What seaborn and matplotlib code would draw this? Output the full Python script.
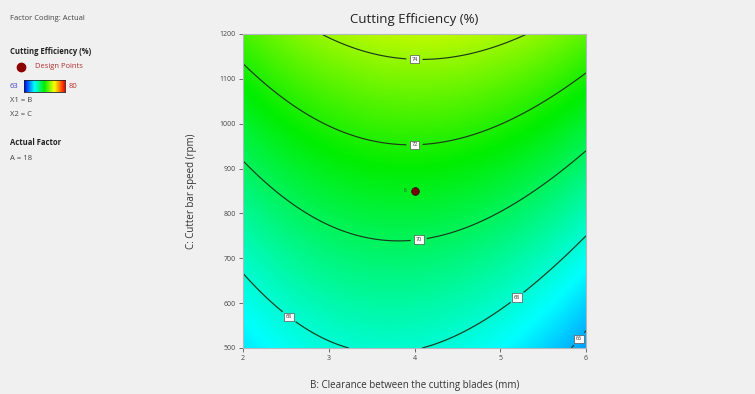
import numpy as np
import pandas as pd
import matplotlib
matplotlib.use("Agg")
import matplotlib.pyplot as plt
from matplotlib.colors import LinearSegmentedColormap
import seaborn as sns

# Factor ranges (actual units)
b_range = [2, 6]          # B: clearance between the cutting blades (mm)
c_range = [500, 1200]     # C: cutter bar speed (rpm)
x_ticks = [2, 3, 4, 5, 6]
y_ticks = [500, 600, 700, 800, 900, 1000, 1100, 1200]

# Quadratic response-surface coefficients (coded factors), A held at 18
coef_names = ["intercept", "B", "C", "BC", "B2", "C2"]
coef_values = [71.00, -0.20, 3.30, 0.40, -1.77, 0.33]

# Response range shown by the colour scale
resp_min, resp_max = 63, 80
contour_levels = [66, 68, 70, 72, 74]

# Design point (centre point) and its replicate count
design_b = [4]
design_c = [850]
design_reps = ["6"]

sns.set_theme(style="white")
plt.rcParams["font.family"] = ["Open Sans", "DejaVu Sans"]

bg = "#f0f0f0"
fig = plt.figure(figsize=(7.55, 3.94), dpi=100, facecolor=bg)
ax = fig.add_axes([243 / 755, 46 / 394, 343 / 755, 314 / 394])

coef = dict(zip(coef_names, coef_values))
bb = np.linspace(b_range[0], b_range[1], 400)
cc = np.linspace(c_range[0], c_range[1], 400)
B, C = np.meshgrid(bb, cc)
u = (B - np.mean(b_range)) / ((b_range[1] - b_range[0]) / 2)
v = (C - np.mean(c_range)) / ((c_range[1] - c_range[0]) / 2)
Z = (coef["intercept"] + coef["B"] * u + coef["C"] * v + coef["BC"] * u * v
     + coef["B2"] * u ** 2 + coef["C2"] * v ** 2)

cmap = LinearSegmentedColormap.from_list(
    "de", [(0.0, "#0000ff"), (0.25, "#00ffff"), (0.5, "#00ee00"),
           (0.75, "#ffff00"), (1.0, "#ff0000")])

ax.imshow(Z, extent=[b_range[0], b_range[1], c_range[0], c_range[1]],
          origin="lower", aspect="auto", cmap=cmap, vmin=resp_min, vmax=resp_max,
          interpolation="bilinear")
cs = ax.contour(B, C, Z, levels=contour_levels, colors="#1c3a1c", linewidths=0.85)
label_spots = [(5.92, 520), (2.6, 585), (5.2, 612), (4.05, 741), (4.0, 952), (4.0, 1149)]
texts = ax.clabel(cs, fmt="%d", fontsize=4, inline=True, inline_spacing=5,
                  manual=label_spots, colors="#333333")
for t in texts:
    t.set_rotation(0)
    t.set_bbox(dict(boxstyle="square,pad=0.3", fc="white", ec="#555555", lw=0.5))

pts = pd.DataFrame({"B": design_b, "C": design_c})
sns.scatterplot(data=pts, x="B", y="C", ax=ax, color="#7a0000", s=30,
                edgecolor="#3a0000", linewidth=0.6, zorder=5, legend=False)
for b, c, r in zip(design_b, design_c, design_reps):
    ax.annotate(r, (b, c), xytext=(-7, 0), textcoords="offset points",
                fontsize=3.5, color="#444444", va="center", ha="center")

ax.set_xlim(b_range)
ax.set_ylim(c_range)
ax.set_xticks(x_ticks)
ax.set_yticks(y_ticks)
ax.tick_params(axis="both", which="major", direction="out", length=3, width=0.6,
               color="#555555", labelsize=5, labelcolor="#444444", pad=2,
               bottom=True, left=True)
for s in ax.spines.values():
    s.set_color("#b0b8c0")
    s.set_linewidth(0.8)

ax.set_xlabel("B: Clearance between the cutting blades (mm)", fontsize=7,
              color="#333333", labelpad=13)
ax.set_ylabel("C: Cutter bar speed (rpm)", fontsize=7, color="#333333", labelpad=16)
ax.set_title("Cutting Efficiency (%)", fontsize=9.5, color="#222222", pad=8)

# Side panel with model information
fig.text(10 / 755, 1 - 18 / 394, "Factor Coding: Actual", fontsize=5.5,
         color="#444444", va="center")
fig.text(10 / 755, 1 - 52 / 394, "Cutting Efficiency (%)", fontsize=5.5,
         color="#222222", va="center", fontweight="bold")
fig.text(35 / 755, 1 - 67 / 394, "Design Points", fontsize=5.5,
         color="#b03030", va="center")
fig.add_artist(plt.Line2D([21 / 755], [1 - 67 / 394], marker="o", markersize=6,
                          color="#8b0000", transform=fig.transFigure))
cax = fig.add_axes([24 / 755, 1 - 92 / 394, 41 / 755, 12 / 394])
cax.imshow(np.linspace(0, 1, 100)[None, :], aspect="auto", cmap=cmap,
           extent=[0, 1, 0, 1])
cax.set_xticks([])
cax.set_yticks([])
for s in cax.spines.values():
    s.set_color("#222222")
    s.set_linewidth(0.6)
fig.text(10 / 755, 1 - 86 / 394, str(resp_min), fontsize=5.5, color="#4040c0",
         va="center")
fig.text(69 / 755, 1 - 86 / 394, str(resp_max), fontsize=5.5, color="#c03030",
         va="center")
fig.text(10 / 755, 1 - 100 / 394, "X1 = B", fontsize=5.5, color="#444444", va="center")
fig.text(10 / 755, 1 - 115 / 394, "X2 = C", fontsize=5.5, color="#444444", va="center")
fig.text(10 / 755, 1 - 143 / 394, "Actual Factor", fontsize=5.5, color="#222222",
         va="center", fontweight="bold")
fig.text(10 / 755, 1 - 158 / 394, "A = 18", fontsize=5.5, color="#444444", va="center")

fig.savefig("out.png", dpi=100, facecolor=bg)
